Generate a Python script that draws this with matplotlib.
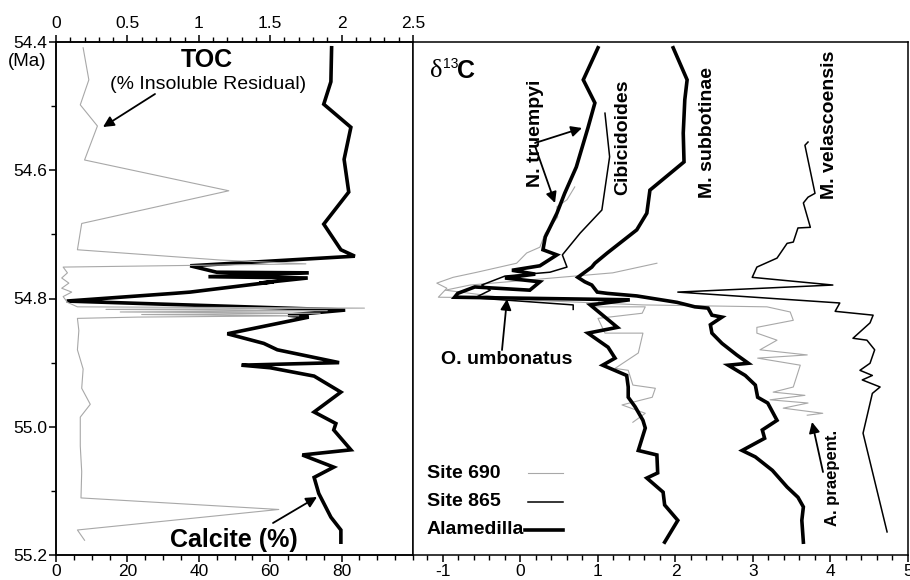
import matplotlib
matplotlib.use("Agg")
import matplotlib.pyplot as plt
from matplotlib.ticker import MultipleLocator, FixedLocator

plt.rcParams['font.family'] = ['Liberation Sans', 'DejaVu Sans']
plt.rcParams['axes.unicode_minus'] = False

W, H = 910, 580

# ---- left panel: Alamedilla calcite (%) and TOC (% insoluble residual)
calc_age = [54.409, 54.462, 54.497, 54.533, 54.583, 54.634, 54.684, 54.724, 54.734,
            54.749, 54.759, 54.760, 54.766, 54.768, 54.776, 54.774, 54.790, 54.792,
            54.804, 54.818, 54.826, 54.829, 54.855, 54.870, 54.880, 54.900, 54.904,
            54.908, 54.921, 54.946, 54.977, 54.995, 55.005, 55.036, 55.044, 55.063,
            55.079, 55.104, 55.141, 55.161, 55.180]
calc_pct = [77.2, 77.0, 75.0, 82.6, 80.7, 82.0, 75.0, 79.8, 83.7,
            37.6, 45.0, 70.8, 42.7, 70.5, 57.0, 61.0, 37.6, 33.0,
            3.0, 81.0, 65.0, 70.8, 48.0, 58.2, 62.0, 79.3, 52.0,
            60.0, 72.3, 79.8, 72.3, 78.4, 77.8, 82.6, 69.0, 77.8,
            72.3, 73.6, 77.0, 79.8, 79.8]

toc_age = [54.409, 54.459, 54.498, 54.531, 54.584, 54.632, 54.683, 54.724, 54.740,
           54.746, 54.751, 54.760, 54.768, 54.776, 54.784, 54.790, 54.797, 54.806,
           54.813, 54.815, 54.817, 54.819, 54.821, 54.823, 54.825, 54.827, 54.829,
           54.831, 54.850, 54.880, 54.910, 54.940, 54.965, 54.985, 55.030, 55.070,
           55.111, 55.129, 55.161, 55.177]
toc_val = [0.19, 0.23, 0.17, 0.29, 0.20, 1.21, 0.18, 0.15, 1.15,
           1.75, 0.05, 0.08, 0.04, 0.09, 0.04, 0.11, 0.05, 0.08,
           0.15, 2.16, 0.35, 1.90, 0.45, 1.85, 0.60, 1.70, 0.57,
           0.15, 0.16, 0.15, 0.19, 0.18, 0.24, 0.17, 0.17, 0.18,
           0.175, 1.56, 0.15, 0.20]

# ---- right panel: d13C
# Alamedilla, N. truempyi (benthic)
ntru_age = [54.409, 54.459, 54.495, 54.534, 54.595, 54.636, 54.667, 54.704, 54.724,
            54.732, 54.749, 54.756, 54.762, 54.768, 54.774, 54.787, 54.782, 54.792,
            54.798, 54.802, 54.810, 54.829, 54.845, 54.854, 54.876, 54.893, 54.904,
            54.920, 54.938, 54.954, 54.969, 54.990, 55.002, 55.037, 55.044, 55.072,
            55.080, 55.102, 55.122, 55.146, 55.180]
ntru_d13c = [1.00, 0.81, 0.96, 0.87, 0.72, 0.57, 0.47, 0.32, 0.29,
             0.47, 0.25, -0.11, 0.19, -0.20, 0.25, 0.12, -0.59, -0.81,
             -0.85, 1.41, 0.90, 1.09, 1.25, 0.87, 1.13, 1.22, 1.06,
             1.37, 1.39, 1.39, 1.48, 1.58, 1.61, 1.52, 1.76, 1.77,
             1.63, 1.84, 1.86, 2.03, 1.86]

# Alamedilla, M. subbotinae (planktic)
msub_age = [54.409, 54.459, 54.490, 54.542, 54.587, 54.631, 54.667, 54.693, 54.729,
            54.745, 54.751, 54.767, 54.774, 54.779, 54.790, 54.792, 54.796, 54.806,
            54.813, 54.815, 54.826, 54.829, 54.841, 54.854, 54.870, 54.888, 54.901,
            54.904, 54.920, 54.935, 54.954, 54.963, 54.990, 55.005, 55.018, 55.037,
            55.047, 55.068, 55.094, 55.110, 55.125, 55.146, 55.180]
msub_d13c = [1.97, 2.15, 2.12, 2.10, 2.11, 1.67, 1.63, 1.50, 1.12,
             0.96, 0.92, 0.74, 0.83, 0.92, 0.99, 1.12, 1.50, 2.02,
             2.25, 2.42, 2.47, 2.60, 2.45, 2.47, 2.60, 2.79, 2.94,
             2.68, 2.90, 3.03, 3.06, 3.19, 3.31, 3.12, 3.15, 2.86,
             3.03, 3.25, 3.44, 3.58, 3.65, 3.63, 3.65]

# Site 865, Cibicidoides
cib865_age = [54.511, 54.579, 54.662, 54.698, 54.732, 54.751, 54.759, 54.765,
              54.779, 54.787, 54.799, 54.810, 54.817]
cib865_d13c = [1.09, 1.15, 1.05, 0.77, 0.54, 0.60, 0.38, -0.20,
               -0.50, -0.39, -0.59, 0.68, 0.68]

# Site 865, M. velascoensis
mvel865_age = [54.556, 54.561, 54.636, 54.642, 54.651, 54.689, 54.690, 54.712, 54.714,
               54.737, 54.751, 54.767, 54.779, 54.790, 54.807, 54.820, 54.826, 54.838,
               54.862, 54.865, 54.880, 54.901, 54.912, 54.920, 54.927, 54.938, 54.948,
               55.010, 55.164]
mvel865_d13c = [3.71, 3.67, 3.80, 3.71, 3.65, 3.74, 3.58, 3.52, 3.44,
                3.31, 3.05, 2.99, 4.03, 2.03, 4.12, 4.06, 4.55, 4.51,
                4.29, 4.47, 4.57, 4.51, 4.38, 4.54, 4.41, 4.64, 4.54,
                4.42, 4.73]

# Site 690, benthic
b690_age = [54.626, 54.646, 54.657, 54.673, 54.689, 54.698, 54.720, 54.729, 54.745,
            54.759, 54.767, 54.776, 54.784, 54.798, 54.799, 54.802, 54.813, 54.813,
            54.823, 54.831, 54.854, 54.854, 54.885, 54.909, 54.912, 54.935, 54.940,
            54.954, 54.966, 54.979, 54.993]
b690_d13c = [0.70, 0.60, 0.47, 0.48, 0.38, 0.32, 0.25, 0.08, -0.05,
             -0.56, -0.87, -1.08, -0.95, -1.06, -0.37, 1.03, 0.96, 1.61,
             1.57, 1.00, 1.09, 1.58, 1.52, 1.22, 1.39, 1.45, 1.74,
             1.70, 1.31, 1.61, 1.45]

# Site 690, planktic (A. praepent.)
p690_age = [54.745, 54.760, 54.767, 54.779, 54.787, 54.802, 54.810, 54.813, 54.821,
            54.834, 54.845, 54.854, 54.865, 54.880, 54.888, 54.893, 54.904, 54.938,
            54.946, 54.951, 54.958, 54.963, 54.971, 54.979, 54.982]
p690_d13c = [1.76, 1.19, 0.51, -0.65, -0.97, 0.00, 1.58, 3.18, 3.48,
             3.52, 3.05, 3.05, 3.31, 3.09, 3.70, 3.06, 3.61, 3.52,
             3.26, 3.67, 3.22, 3.71, 3.39, 3.90, 3.70]

thick = dict(color='black', lw=2.6, solid_joinstyle='miter')
thin = dict(color='black', lw=1.1)
grey = dict(color='#a8a8a8', lw=0.8)

fig = plt.figure(figsize=(W / 100, H / 100), dpi=100)
axL = fig.add_axes([56 / W, 25 / H, 357 / W, 513 / H])
axR = fig.add_axes([413 / W, 25 / H, 495 / W, 513 / H])

# left panel
axL.plot(calc_pct, calc_age, **thick)
axL.set_xlim(0, 100)
axL.set_ylim(55.2, 54.4)
axT = axL.twiny()
axT.plot(toc_val, toc_age, **grey)
axT.set_xlim(0, 2.5)
axT.set_ylim(55.2, 54.4)

axL.xaxis.set_major_locator(FixedLocator([0, 20, 40, 60, 80]))
axL.xaxis.set_minor_locator(MultipleLocator(5))
axL.set_yticks([54.4, 54.6, 54.8, 55.0, 55.2])
axL.set_yticklabels(['54.4', '54.6', '54.8', '55.0', '55.2'])
axL.yaxis.set_minor_locator(MultipleLocator(0.1))
axT.set_xticks([0, 0.5, 1, 1.5, 2, 2.5])
axT.set_xticklabels(['0', '0.5', '1', '1.5', '2', '2.5'])
axT.xaxis.set_minor_locator(MultipleLocator(0.1))

for a in (axL, axT, axR):
    for s in a.spines.values():
        s.set_linewidth(1.1)
    a.tick_params(which='major', direction='out', length=5, width=1.1, labelsize=12.5, pad=1.5)
    a.tick_params(which='minor', direction='out', length=3.5, width=1.0)
axT.tick_params(which='major', pad=3)

# right panel
axR.plot(p690_d13c, p690_age, **grey)
axR.plot(b690_d13c, b690_age, **grey)
axR.plot(cib865_d13c, cib865_age, **thin)
axR.plot(mvel865_d13c, mvel865_age, **thin)
axR.plot(ntru_d13c, ntru_age, **thick)
axR.plot(msub_d13c, msub_age, **thick)
axR.set_xlim(-1.387, 5.0)
axR.set_ylim(55.2, 54.4)
axR.set_xticks([-1, 0, 1, 2, 3, 4, 5])
axR.xaxis.set_minor_locator(MultipleLocator(0.2))
axR.set_yticks([])
axR.spines['left'].set_visible(False)


def ftxt(x, y, s, **kw):
    fig.text(x / W, 1 - y / H, s, **kw)


def arrow(tail, head):
    fig.add_artist(plt.matplotlib.patches.FancyArrowPatch(
        (tail[0] / W, 1 - tail[1] / H), (head[0] / W, 1 - head[1] / H),
        transform=fig.transFigure, arrowstyle='-|>', mutation_scale=16,
        color='black', lw=1.3, shrinkA=0, shrinkB=0))


ftxt(27, 62, '(Ma)', fontsize=13.5, ha='center', va='center')

ftxt(207, 60, 'TOC', fontsize=18, fontweight='bold', ha='center', va='center')
ftxt(208, 84, '(% Insoluble Residual)', fontsize=14, ha='center', va='center')
arrow((155, 94), (103, 127))
ftxt(234, 540, 'Calcite (%)', fontsize=18, fontweight='bold', ha='center', va='center')
arrow((273, 523), (317, 497))

ftxt(436, 71, 'δ', fontsize=19, family='Liberation Serif',
     ha='center', va='center')
ftxt(451, 64, '13', fontsize=10, ha='center', va='center')
ftxt(466, 71, 'C', fontsize=18, fontweight='bold', ha='center', va='center')

rot = dict(fontsize=14, fontweight='bold', rotation=90, ha='center', va='center')
ftxt(535, 133, 'N. truempyi', **rot)
ftxt(623, 137, 'Cibicidoides', **rot)
ftxt(708, 133, 'M. subbotinae', **rot)
ftxt(830, 125, 'M. velascoensis', **rot)
arrow((535, 143), (582, 128))
arrow((535, 146), (555, 203))

ftxt(507, 359, 'O. umbonatus', fontsize=14, fontweight='bold', ha='center', va='center')
arrow((502, 350), (507, 299))
ftxt(833, 478, 'A. praepent.', fontsize=12, fontweight='bold', rotation=90,
     ha='center', va='center')
arrow((823, 472), (812, 422))

# legend drawn by hand, like the original
ftxt(427, 473, 'Site 690', fontsize=14, fontweight='bold', ha='left', va='center')
ftxt(427, 502, 'Site 865', fontsize=14, fontweight='bold', ha='left', va='center')
ftxt(427, 530, 'Alamedilla', fontsize=14, fontweight='bold', ha='left', va='center')
for y, st in ((473, grey), (502, thin), (530, thick)):
    x0 = 528 if y != 530 else 525
    fig.add_artist(plt.Line2D([x0 / W, 563 / W], [1 - y / H, 1 - y / H],
                              transform=fig.transFigure, **st))

fig.savefig('out.png', dpi=100)
